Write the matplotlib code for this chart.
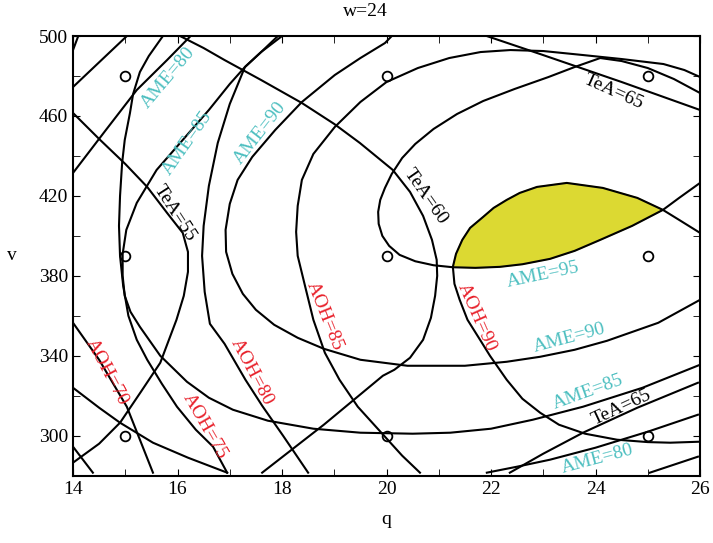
import numpy as np
import matplotlib
matplotlib.use("Agg")
import matplotlib.pyplot as plt
from matplotlib.ticker import FixedLocator, MultipleLocator

plt.rcParams['font.family'] = ['Liberation Serif', 'DejaVu Serif']
plt.rcParams['font.size'] = 14

# contour lines, (q, v) pairs
# AME family
ame75_a_q = [14.0, 15.03]
ame75_a_v = [474.5, 500]
ame75_b_q = [25.04, 25.96]
ame75_b_v = [281.5, 289.5]
ame80_a_q = [14.0, 14.6, 15.22, 15.8, 16.25]
ame80_a_v = [431.5, 452, 473, 488, 500]
ame80_b_q = [14.0, 14.5, 14.9, 15.53, 16.2, 16.95]
ame80_b_v = [324, 314, 306.5, 296.5, 289, 281.5]
ame80_c_q = [21.92, 22.5, 23.13, 24.0, 25.0, 25.96]
ame80_c_v = [281.5, 284.5, 288, 294, 302, 310.5]
ame85_q = [17.92, 17.6, 17.29, 17.0, 16.6, 16.1, 15.6, 15.22, 15.02, 14.95, 14.95,
           14.99, 15.1, 15.28, 15.67, 16.18, 16.6, 17.06, 17.73, 18.6, 19.5, 20.5,
           21.22, 22.0, 22.8, 23.76, 24.9, 26.0]
ame85_v = [500, 492, 484.5, 476, 463, 448, 433, 416.5, 403, 391, 380,
           370, 362, 354.5, 340, 327, 319, 313, 307.5, 303.5, 301.5, 301,
           301.5, 303.5, 308, 314.5, 324, 335.5]
ame90_q = [20.1, 19.97, 19.5, 19.01, 18.38, 17.87, 17.43, 17.15, 17.0, 16.92, 16.93,
           17.05, 17.25, 17.5, 17.85, 18.3, 18.8, 19.5, 20.4, 21.5, 22.3, 22.94,
           23.6, 24.22, 25.2, 26.0]
ame90_v = [500, 496.5, 489, 480.5, 467, 453, 439.5, 428, 416, 403, 392,
           381, 371, 363, 355.5, 349, 343.5, 338, 335, 335, 337, 339.5,
           343, 347.5, 356.5, 368]
ame95_q = [26.0, 25.6, 25.29, 24.7, 24.09, 23.6, 23.13, 22.6, 22.17, 21.7, 21.27,
           20.9, 20.55, 20.25, 20.05, 19.92, 19.85, 19.84, 19.88, 19.97, 20.1, 20.3,
           20.55, 20.9, 21.35, 21.85, 22.45, 23.1, 23.6, 24.09, 24.5, 25.0, 25.5, 26.0]
ame95_v = [426.5, 419, 413, 405, 398, 392.5, 388.5, 385.8, 384.5, 384, 384.3,
           385.3, 387.3, 390.5, 395, 400, 406, 412, 418, 424, 431, 439,
           446, 453.5, 461, 467.5, 473.5, 479.5, 484.5, 489, 487.5, 484, 478.5, 471.5]

# AOH family
aoh65_q = [14.0, 14.38]
aoh65_v = [294.5, 281.5]
aoh70_a_q = [14.0, 14.5, 15.03, 15.53]
aoh70_a_v = [356.5, 338, 314.5, 281.5]
aoh70_b_q = [14.0, 14.1]
aoh70_b_v = [493, 500]
aoh75_q = [15.72, 15.45, 15.28, 15.15, 15.09, 14.99, 14.94, 14.9, 14.88, 14.9, 14.96,
           15.06, 15.22, 15.42, 15.7, 15.99, 16.35, 16.68, 16.95]
aoh75_v = [500, 490, 482, 471, 461.5, 448, 436.5, 420, 405, 390, 375,
           360, 348, 338, 326, 314.5, 303, 294.5, 281.5]
aoh80_q = [18.0, 17.6, 17.29, 17.0, 16.77, 16.6, 16.5, 16.47, 16.52, 16.62, 16.9,
           17.3, 17.62, 18.02, 18.5]
aoh80_v = [500, 492, 484.5, 466, 446.5, 425, 405, 390, 372, 356, 346,
           328, 315, 300, 281.5]
aoh85_q = [20.64, 20.3, 19.97, 19.45, 19.1, 18.82, 18.6, 18.44, 18.3, 18.27, 18.3,
           18.38, 18.6, 19.01, 19.5, 20.0, 20.6, 21.2, 21.8, 22.37, 23.0, 23.76,
           24.5, 25.3, 25.7, 26.0]
aoh85_v = [281.5, 290, 299.5, 314.5, 328, 341.5, 358, 375, 390, 402, 415,
           428, 441, 454.5, 467, 477, 484, 489, 492, 493, 492.5, 490.5,
           488.5, 486, 483, 479.5]
aoh90_q = [26.0, 25.6, 25.29, 24.8, 24.14, 23.45, 22.88, 22.55, 22.3, 22.05, 21.85,
           21.6, 21.45, 21.33, 21.27, 21.3, 21.4, 21.55, 21.79, 21.98, 22.3, 22.6,
           22.94, 23.3, 23.8, 24.41, 25.0, 25.43, 26.0]
aoh90_v = [401.5, 408, 413, 419, 424, 426.5, 424.5, 421.5, 418, 414, 409.5,
           404, 398, 391, 384.5, 376, 368, 358, 348, 340, 328, 318.5,
           311.5, 305.5, 301, 298, 296.8, 296.5, 297]

# TeA family
tea55_q = [14.0, 14.5, 15.0, 15.42, 15.8, 16.1, 16.2, 16.2, 16.12, 15.98, 15.67,
           15.3, 14.9, 14.5, 14.0]
tea55_v = [461.5, 448.5, 436, 424.5, 411.5, 401.5, 392, 382, 370, 358, 336.5,
           322, 306.5, 296, 286.5]
tea60_q = [16.05, 16.5, 16.9, 17.6, 18.38, 19.0, 19.49, 20.12, 20.45, 20.7, 20.87,
           20.96, 20.97, 20.93, 20.85, 20.7, 20.45, 20.15, 19.93, 18.8, 17.62]
tea60_v = [500, 494, 488, 478, 466.5, 456, 446.5, 433, 422, 410, 398,
           388, 380, 370, 359, 348, 339, 333, 330, 305.5, 281.5]
tea65_a_q = [21.92, 22.94, 24.5, 26.0]
tea65_a_v = [500, 491, 477, 463]
tea65_b_q = [22.36, 23.0, 23.76, 24.8, 25.96]
tea65_b_v = [281.5, 291, 301.5, 314, 326.5]

# feasible (yellow) region boundary
yellow_q = [21.27, 21.33, 21.45, 21.6, 21.85, 22.05, 22.3, 22.55, 22.88, 23.45, 24.14,
            24.8, 25.29, 24.7, 24.09, 23.6, 23.13, 22.6, 22.17, 21.7]
yellow_v = [384.5, 391, 398, 404, 409.5, 414, 418, 421.5, 424.5, 426.5, 424,
            419, 413, 405, 398, 392.5, 388.5, 385.8, 384.5, 384]

# design points
design_q = [15, 20, 25, 15, 20, 25, 15, 20, 25]
design_v = [480, 480, 480, 390, 390, 390, 300, 300, 300]

# labels: text, q, v, angle, family
labels = [
    ("AME=80", 15.82, 479, 50, "AME"),
    ("AME=85", 16.18, 446.5, 55, "AME"),
    ("AME=90", 17.58, 451.5, 52, "AME"),
    ("TeA=55", 15.95, 411.5, -57, "TeA"),
    ("TeA=60", 20.74, 419.5, -55, "TeA"),
    ("TeA=65", 24.34, 472, -24, "TeA"),
    ("AME=95", 23.0, 380.5, 12, "AME"),
    ("AOH=90", 21.73, 359, -66, "AOH"),
    ("AME=90", 23.5, 349, 15, "AME"),
    ("AME=85", 23.85, 322, 20, "AME"),
    ("TeA=65", 24.5, 314, 25, "TeA"),
    ("AME=80", 24.03, 288.5, 15, "AME"),
    ("AOH=70", 14.65, 332, -62, "AOH"),
    ("AOH=75", 16.53, 304.5, -60, "AOH"),
    ("AOH=80", 17.43, 332, -62, "AOH"),
    ("AOH=85", 18.82, 360, -68, "AOH"),
]
colors = {"AME": "#4dbfc0", "AOH": "#e8212b", "TeA": "black"}

fig = plt.figure(figsize=(7.13, 5.43), dpi=100)
ax = fig.add_axes([0.1024, 0.124, 0.8794, 0.8096])

ax.fill(yellow_q, yellow_v, color="#dcd932", zorder=1)

curves = [
    (ame75_a_q, ame75_a_v), (ame75_b_q, ame75_b_v), (ame80_a_q, ame80_a_v),
    (ame80_b_q, ame80_b_v), (ame80_c_q, ame80_c_v), (ame85_q, ame85_v),
    (ame90_q, ame90_v), (ame95_q, ame95_v),
    (aoh65_q, aoh65_v), (aoh70_a_q, aoh70_a_v), (aoh70_b_q, aoh70_b_v),
    (aoh75_q, aoh75_v), (aoh80_q, aoh80_v), (aoh85_q, aoh85_v), (aoh90_q, aoh90_v),
    (tea55_q, tea55_v), (tea60_q, tea60_v), (tea65_a_q, tea65_a_v), (tea65_b_q, tea65_b_v),
]
for cq, cv in curves:
    ax.plot(cq, cv, color="black", lw=1.5, zorder=2, solid_joinstyle="round")

ax.plot(design_q, design_v, "o", ms=7, mfc="none", mec="black", mew=1.3, zorder=3)

for txt, lq, lv, ang, fam in labels:
    ax.text(lq, lv, txt, rotation=ang, rotation_mode="anchor", ha="center", va="center",
            color=colors[fam], fontsize=14, zorder=4)

ax.set_xlim(14, 26)
ax.set_ylim(280, 500)
ax.xaxis.set_major_locator(MultipleLocator(2))
ax.xaxis.set_minor_locator(MultipleLocator(1))
ax.yaxis.set_major_locator(FixedLocator([300, 340, 380, 420, 460, 500]))
ax.yaxis.set_minor_locator(FixedLocator([280, 320, 360, 400, 440, 480]))
ax.tick_params(which="both", direction="in", top=True, right=True, labelsize=14, length=5)
for s in ax.spines.values():
    s.set_linewidth(1.5)

ax.set_xlabel("q", labelpad=10)
ax.set_ylabel("v", rotation=0, va="center")
ax.yaxis.set_label_coords(-0.097, 0.5)
ax.text(0.467, 1.055, "w=24", transform=ax.transAxes, ha="center", va="center", fontsize=14)

fig.savefig("out.png", dpi=100)
